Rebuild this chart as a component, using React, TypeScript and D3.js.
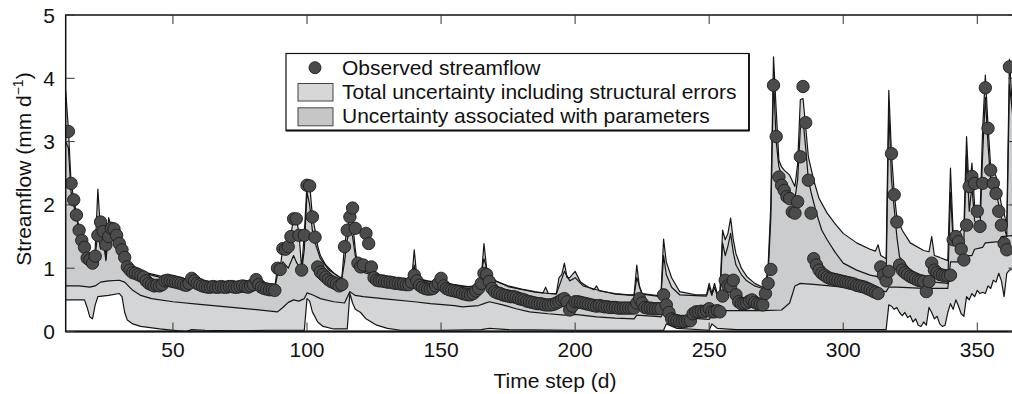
import * as d3 from 'd3';

type Pt = [number, number];

// observed daily streamflow, first value is day 11
const obsStart = 11;
const observed = [
  3.16, 2.34, 2.08, 1.84, 1.6, 1.44, 1.33, 1.16, 1.13, 1.08,
  1.19, 1.52, 1.73, 1.58, 1.37, 1.5, 1.63, 1.62, 1.52, 1.39,
  1.29, 1.17, 1.02, 0.97, 0.93, 0.92, 0.9, 0.88, 0.86, 0.8,
  0.76, 0.74, 0.72, 0.73, 0.72, 0.74, 0.8, 0.81, 0.8, 0.79,
  0.78, 0.77, 0.76, 0.74, 0.73, 0.76, 0.84, 0.8, 0.76, 0.74,
  0.72, 0.71, 0.7, 0.7, 0.71, 0.7, 0.7, 0.71, 0.7, 0.7,
  0.71, 0.71, 0.7, 0.7, 0.71, 0.72, 0.71, 0.7, 0.72, 0.74,
  0.82, 0.74, 0.7, 0.68, 0.67, 0.66, 0.66, 0.65, 1.0, 0.98,
  1.31, 1.3, 1.34, 1.5, 1.78, 1.78, 1.52, 0.97, 1.52, 2.31,
  2.3, 1.81, 1.49, 1.02, 0.94, 0.9, 0.86, 0.82, 0.79, 0.77,
  0.75, 0.72, 0.74, 1.34, 1.6, 1.81, 1.95, 1.63, 1.08, 1.02,
  1.05, 1.55, 1.39, 1.02, 0.85, 0.81, 0.8, 0.8, 0.79, 0.78,
  0.78, 0.77, 0.76, 0.76, 0.75, 0.75, 0.74, 0.74, 0.78, 0.89,
  0.8, 0.73, 0.7, 0.68, 0.67, 0.67, 0.68, 0.72, 0.76, 0.84,
  0.72, 0.68, 0.66, 0.65, 0.64, 0.63, 0.62, 0.6, 0.59, 0.58,
  0.58, 0.6, 0.64, 0.68, 0.76, 0.92, 0.9, 0.79, 0.68, 0.63,
  0.61, 0.6, 0.58, 0.57, 0.56, 0.55, 0.55, 0.54, 0.52, 0.51,
  0.5, 0.48, 0.47, 0.46, 0.45, 0.44, 0.44, 0.43, 0.42, 0.42,
  0.42, 0.43, 0.45, 0.47, 0.5, 0.52, 0.47, 0.34, 0.4, 0.47,
  0.47, 0.46, 0.45, 0.44, 0.43, 0.42, 0.41, 0.4, 0.41, 0.4,
  0.39, 0.39, 0.38, 0.38, 0.38, 0.37, 0.37, 0.37, 0.37, 0.37,
  0.37, 0.37, 0.45, 0.52, 0.45, 0.38, 0.37, 0.37, 0.36, 0.36,
  0.36, 0.36, 0.58, 0.42, 0.3, 0.2, 0.18, 0.17, 0.16, 0.16,
  0.16, 0.17, 0.17, 0.28, 0.31, 0.31, 0.32, 0.31, 0.33, 0.36,
  0.31, 0.31, 0.33, 0.31, 0.56, 0.81, 0.72, 0.71, 0.81, 0.58,
  0.47, 0.44, 0.44, 0.45, 0.48, 0.5, 0.46, 0.44, 0.43, 0.42,
  0.6, 0.76, 0.98, 3.89, 3.08, 2.44, 2.31, 2.23, 2.13, 2.1,
  1.89, 1.87, 2.05, 2.76, 3.87, 3.3, 2.39, 1.87, 1.15, 1.05,
  0.97, 0.92, 0.89, 0.86, 0.84, 0.83, 0.82, 0.81, 0.8, 0.79,
  0.78, 0.77, 0.76, 0.75, 0.73, 0.72, 0.71, 0.7, 0.68, 0.66,
  0.64, 0.62, 0.6, 1.02, 0.89, 0.8, 0.95, 2.81, 2.16, 1.73,
  1.05, 0.97, 0.93, 0.9, 0.87, 0.85, 0.83, 0.81, 0.8, 0.79,
  0.63, 0.79, 1.08, 0.97, 0.93, 0.9, 0.89, 0.88, 0.88, 0.89,
  1.45, 1.5, 1.42, 1.3, 1.13, 1.68, 2.29, 2.45, 2.34, 1.9,
  1.66, 2.34, 3.85, 3.21, 2.55, 2.34, 2.18, 1.9, 1.68, 1.39,
  1.29, 4.18,
];

// band edges as [day, value] vertices
const totalUpper: Pt[] = [
  [10, 3.8], [11, 3.2], [12, 2.35], [13, 2.1], [14, 1.86], [15, 1.63], [16, 1.47], [17, 1.36],
  [18, 1.22], [19, 1.17], [20, 1.13], [21, 1.3], [22, 2.25], [23, 1.55], [24, 1.6], [25, 1.15],
  [26, 1.8], [27, 1.66], [28, 1.65], [29, 1.55], [30, 1.42], [31, 1.32], [32, 1.2], [33, 1.08],
  [34, 1.02], [36, 0.98], [40, 0.93], [45, 0.88], [50, 0.84], [55, 0.81], [60, 0.78], [65, 0.76],
  [70, 0.75], [75, 0.74], [80, 0.74], [85, 0.72], [88, 0.7], [89, 1.02], [90, 1.0], [91, 1.33],
  [92, 1.32], [93, 1.36], [94, 1.52], [95, 1.8], [96, 1.8], [97, 1.55], [98, 1.0], [99, 1.55],
  [100, 2.33], [101, 2.32], [102, 1.83], [103, 1.6], [104, 1.35], [105, 1.2], [107, 1.05],
  [110, 0.92], [112, 0.86], [113, 0.85], [114, 1.36], [115, 1.62], [116, 1.8], [117, 1.75],
  [118, 1.3], [119, 1.0], [121, 0.96], [125, 0.9], [130, 0.85], [135, 0.82], [139, 0.8],
  [140, 1.29], [141, 0.84], [145, 0.8], [150, 0.77], [155, 0.74], [160, 0.71], [163, 0.72],
  [165, 0.85], [166, 1.39], [167, 1.0], [168, 0.88], [170, 0.8], [175, 0.72], [180, 0.67],
  [185, 0.63], [188, 0.61], [189, 0.7], [190, 0.6], [193, 0.6], [194, 0.85], [195, 0.9],
  [196, 1.08], [197, 0.85], [198, 0.85], [200, 0.95], [202, 0.78], [205, 0.7], [207, 0.66],
  [208, 0.72], [209, 0.64], [215, 0.6], [220, 0.58], [222, 0.58], [223, 1.05], [224, 0.7],
  [225, 0.6], [230, 0.57], [232, 0.57], [233, 1.46], [234, 1.1], [236, 0.85], [239, 0.63],
  [245, 0.58], [249, 0.58], [250, 0.76], [251, 0.6], [252, 0.76], [253, 0.6], [254, 0.58],
  [255, 1.6], [256, 1.45], [257, 1.55], [258, 1.79], [259, 1.45], [260, 1.23], [262, 1.0],
  [264, 0.87], [267, 0.76], [270, 0.7], [271, 0.72], [272, 1.05], [273, 2.0], [274, 4.34],
  [275, 3.5], [276, 2.71], [277, 2.6], [278, 2.55], [280, 2.47], [282, 2.29], [283, 2.65],
  [284, 3.66], [285, 3.68], [286, 3.23], [287, 2.76], [289, 2.39], [291, 2.1], [294, 1.87],
  [297, 1.7], [300, 1.55], [305, 1.4], [310, 1.3], [312, 1.27], [313, 1.37], [314, 1.2],
  [316, 1.15], [317, 3.81], [318, 2.81], [319, 2.2], [320, 1.8], [322, 1.6], [325, 1.4],
  [330, 1.28], [332, 1.26], [333, 1.5], [334, 1.2], [336, 1.17], [339, 1.12], [340, 2.58],
  [341, 1.55], [343, 1.55], [345, 1.65], [346, 3.08], [347, 2.2], [348, 2.66], [349, 2.0],
  [350, 1.95], [351, 1.8], [352, 3.2], [353, 4.05], [354, 3.26], [355, 2.6], [357, 2.45],
  [359, 2.0], [360, 1.87], [361, 1.66], [362, 4.3], [363, 3.6], [364, 3.2], [365, 3.0],
];

const paramUpper: Pt[] = [
  [10, 3.0], [11, 2.9], [12, 2.2], [13, 2.0], [14, 1.8], [15, 1.6], [16, 1.45], [17, 1.3],
  [18, 1.18], [19, 1.13], [20, 1.1], [21, 1.2], [22, 1.55], [23, 1.3], [24, 1.45], [25, 1.12],
  [26, 1.55], [27, 1.62], [28, 1.6], [30, 1.38], [32, 1.15], [34, 0.98], [36, 0.95], [40, 0.91],
  [45, 0.86], [50, 0.82], [60, 0.76], [70, 0.73], [80, 0.72], [88, 0.69], [89, 0.9], [91, 1.1],
  [93, 1.0], [95, 1.2], [96, 1.1], [98, 0.95], [99, 1.3], [100, 2.2], [101, 2.0], [102, 1.6],
  [103, 1.4], [105, 1.15], [108, 0.98], [112, 0.86], [113, 0.84], [114, 1.1], [115, 1.45],
  [116, 1.6], [117, 1.5], [118, 1.2], [120, 0.95], [125, 0.88], [130, 0.84], [139, 0.79],
  [140, 1.05], [141, 0.82], [150, 0.76], [160, 0.7], [164, 0.72], [166, 1.15], [168, 0.85],
  [175, 0.71], [185, 0.62], [193, 0.59], [196, 0.95], [198, 0.8], [200, 0.85], [203, 0.72],
  [208, 0.66], [215, 0.59], [222, 0.57], [223, 0.85], [225, 0.59], [232, 0.55], [233, 1.2],
  [234, 0.9], [236, 0.7], [239, 0.58], [249, 0.56], [250, 0.7], [251, 0.57], [252, 0.7],
  [253, 0.57], [254, 0.56], [255, 1.4], [256, 1.2], [257, 1.35], [258, 1.55], [259, 1.25],
  [260, 1.05], [262, 0.9], [264, 0.8], [267, 0.72], [270, 0.68], [272, 0.9], [273, 1.8],
  [274, 4.0], [275, 3.0], [276, 2.6], [278, 2.35], [280, 2.2], [282, 2.1], [283, 2.4],
  [284, 3.2], [285, 3.35], [286, 2.9], [287, 2.4], [288, 2.2], [290, 1.87], [292, 1.6],
  [294, 1.45], [297, 1.25], [300, 1.08], [305, 0.97], [310, 0.89], [316, 0.84], [317, 3.5],
  [318, 2.4], [320, 1.5], [321, 1.18], [325, 0.97], [330, 0.81], [333, 0.85], [334, 0.78],
  [339, 0.76], [340, 2.2], [341, 1.4], [343, 1.35], [345, 1.45], [346, 2.8], [347, 1.9],
  [348, 2.3], [349, 1.75], [351, 1.6], [352, 2.8], [353, 3.7], [354, 2.95], [355, 2.4],
  [357, 2.2], [359, 1.8], [361, 1.5], [362, 3.9], [365, 2.7],
];

const paramLower: Pt[] = [
  [10, 0.72], [15, 0.72], [19, 0.7], [21, 0.72], [23, 0.78], [26, 0.8], [30, 0.81], [32, 0.78],
  [35, 0.65], [38, 0.57], [42, 0.52], [50, 0.47], [60, 0.43], [70, 0.39], [80, 0.35], [89, 0.31],
  [91, 0.38], [93, 0.46], [95, 0.5], [97, 0.48], [99, 0.52], [100, 0.61], [102, 0.58], [105, 0.52],
  [110, 0.47], [114, 0.45], [116, 0.63], [118, 0.57], [121, 0.55], [130, 0.51], [140, 0.47],
  [146, 0.44], [155, 0.41], [158, 0.39], [164, 0.41], [166, 0.44], [168, 0.47], [173, 0.42],
  [178, 0.36], [183, 0.31], [190, 0.28], [196, 0.26], [200, 0.27], [208, 0.23], [215, 0.21],
  [222, 0.2], [223, 0.26], [230, 0.24], [232, 0.23], [233, 0.3], [240, 0.22], [250, 0.19],
  [251, 0.26], [254, 0.27], [255, 0.33], [270, 0.33], [277, 0.34], [280, 0.45], [282, 0.72],
  [284, 0.76], [290, 0.74], [300, 0.7], [310, 0.66], [316, 0.63], [317, 0.7], [320, 0.7],
  [330, 0.68], [339, 0.68], [340, 1.1], [344, 1.1], [345, 1.2], [348, 1.2], [349, 1.3],
  [352, 1.33], [353, 1.4], [358, 1.42], [359, 1.5], [365, 1.52],
];

const totalLower: Pt[] = [
  [10, 0.5], [17, 0.5], [18, 0.38], [19, 0.23], [20, 0.2], [21, 0.42], [22, 0.55], [26, 0.57],
  [30, 0.6], [31, 0.55], [32, 0.3], [33, 0.18], [35, 0.12], [38, 0.08], [45, 0.04], [52, 0.01],
  [55, 0.0], [57, 0.03], [62, 0.02], [75, 0.01], [85, 0.02], [99, 0.02], [100, 0.52], [101, 0.48],
  [102, 0.31], [104, 0.15], [106, 0.08], [110, 0.04], [115, 0.04], [116, 0.6], [117, 0.45],
  [118, 0.35], [120, 0.3], [122, 0.2], [126, 0.1], [130, 0.05], [135, 0.02], [150, 0.02],
  [165, 0.03], [168, 0.05], [175, 0.03], [200, 0.02], [233, 0.02], [234, 0.12], [238, 0.05],
  [250, 0.02], [251, 0.12], [253, 0.05], [260, 0.03], [316, 0.03], [317, 0.42], [318, 0.4],
  [319, 0.35], [320, 0.38], [321, 0.3], [322, 0.25], [323, 0.3], [324, 0.22], [325, 0.25],
  [326, 0.15], [327, 0.2], [328, 0.1], [329, 0.08], [330, 0.15], [331, 0.1], [332, 0.38],
  [333, 0.3], [334, 0.2], [335, 0.24], [336, 0.12], [337, 0.08], [338, 0.1], [339, 0.3],
  [340, 0.44], [341, 0.35], [342, 0.5], [343, 0.4], [344, 0.28], [345, 0.24], [346, 0.55],
  [347, 0.5], [348, 0.6], [349, 0.55], [350, 0.65], [351, 0.6], [352, 0.62], [353, 0.6],
  [354, 0.72], [355, 0.68], [356, 0.81], [357, 0.78], [358, 0.92], [359, 0.8], [360, 0.55],
  [361, 0.92], [362, 0.97], [365, 1.0],
];

const xTicks = [50, 100, 150, 200, 250, 300, 350];
const yTicks = [0, 1, 2, 3, 4, 5];
const legendLabels = [
  'Observed streamflow',
  'Total uncertainty including structural errors',
  'Uncertainty associated with parameters',
];

const FONT = '"Liberation Sans", Arial, Helvetica, sans-serif';

export default function App() {
  const W = 1012;
  const H = 394;
  const left = 65.7, right = 1017.5, top = 15, bottom = 331.5;

  const x = d3.scaleLinear().domain([10, 365]).range([left, right]);
  const y = d3.scaleLinear().domain([0, 5]).range([bottom, top]);

  const line = d3.line<Pt>().x(d => x(d[0])).y(d => y(d[1]));
  const band = (upper: Pt[], lower: Pt[]) =>
    line([...upper, ...lower.slice().reverse()]) + 'Z';

  const obs = observed.map((v, i) => [obsStart + i, v] as Pt);

  return (
    <svg
      width={W}
      height={H}
      style={{ position: 'absolute', left: 0, top: 0, display: 'block', background: '#fff' }}
      fontFamily={FONT}
    >
      <defs>
        <clipPath id="plot">
          <rect x={left} y={top} width={right - left} height={bottom - top} />
        </clipPath>
      </defs>

      <g clipPath="url(#plot)">
        <path d={band(totalUpper, totalLower)} fill="#d3d5d6" />
        <path d={band(paramUpper, paramLower)} fill="#cacccd" />
        {[totalUpper, paramUpper, paramLower, totalLower].map((s, i) => (
          <path key={i} d={line(s) || ''} fill="none" stroke="#161616" strokeWidth={1.2} strokeLinejoin="round" />
        ))}
        {obs.map(d => (
          <circle key={d[0]} cx={x(d[0])} cy={y(d[1])} r={6.2} fill="#4b4b4b" stroke="#1e1e1e" strokeWidth={0.9} />
        ))}
      </g>

      {/* frame */}
      <rect x={left} y={top} width={right - left} height={bottom - top} fill="none" stroke="#111" strokeWidth={1.5} />
      <line x1={left} x2={right} y1={bottom} y2={bottom} stroke="#111" strokeWidth={2.2} />

      {/* x ticks */}
      {xTicks.map(t => (
        <g key={t}>
          <line x1={x(t)} x2={x(t)} y1={bottom} y2={bottom - 9} stroke="#333" strokeWidth={1} />
          <line x1={x(t)} x2={x(t)} y1={top} y2={top + 9} stroke="#333" strokeWidth={1} />
          <text x={x(t)} y={357} textAnchor="middle" fontSize={21} fill="#111">{t}</text>
        </g>
      ))}

      {/* y ticks */}
      {yTicks.map(t => (
        <g key={t}>
          <line x1={left} x2={left + 9} y1={y(t)} y2={y(t)} stroke="#333" strokeWidth={1} />
          <line x1={right - 9} x2={right} y1={y(t)} y2={y(t)} stroke="#333" strokeWidth={1} />
          <text x={55} y={y(t) + 7.5} textAnchor="end" fontSize={21} fill="#111">{t}</text>
        </g>
      ))}

      <text x={555} y={388} textAnchor="middle" fontSize={21} fill="#111">Time step (d)</text>
      <text transform="translate(31,169) rotate(-90)" textAnchor="middle" fontSize={21} fill="#111">
        Streamflow (mm d<tspan dy={-8} fontSize={14}>−1</tspan><tspan dy={8}>)</tspan>
      </text>

      {/* legend */}
      <g>
        <rect x={286} y={53.5} width={463} height={77} fill="#fff" stroke="#111" strokeWidth={1.2} />
        <line x1={286} x2={749.5} y1={130.5} y2={130.5} stroke="#111" strokeWidth={2} />
        <line x1={749} x2={749} y1={53.5} y2={131} stroke="#111" strokeWidth={1.8} />
        <circle cx={315} cy={67.7} r={6} fill="#4b4b4b" stroke="#1e1e1e" strokeWidth={0.9} />
        <rect x={298} y={83.5} width={35} height={17.5} fill="#d7d7d7" stroke="#444" strokeWidth={1} />
        <rect x={298} y={107.8} width={35} height={18} fill="#c6c6c6" stroke="#444" strokeWidth={1} />
        {legendLabels.map((s, i) => (
          <text key={s} x={342} y={75 + i * 24.2} fontSize={21} fill="#111">{s}</text>
        ))}
      </g>
    </svg>
  );
}
